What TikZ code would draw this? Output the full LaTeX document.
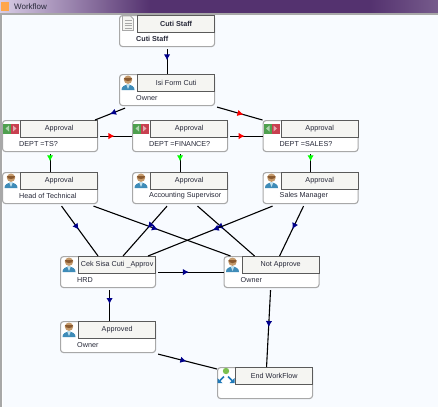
\documentclass[tikz,border=0pt]{standalone}
\usepackage{fontspec}
\setmainfont{Liberation Sans}
\usetikzlibrary{arrows.meta,decorations.markings}

\definecolor{bgblue}{HTML}{F8FBFF}
\definecolor{headgrey}{HTML}{F5F5F2}
\definecolor{edgegrey}{HTML}{5A5A5A}
\definecolor{rimgrey}{HTML}{A8A8A8}
\definecolor{textgrey}{HTML}{262838}
\definecolor{barpurple}{HTML}{54326F}
\definecolor{barlilac}{HTML}{D9CDE6}
\definecolor{navytip}{HTML}{00008B}
\definecolor{shirtblue}{HTML}{3F8CB8}
\definecolor{shirtpale}{HTML}{BFE0EE}
\definecolor{skintone}{HTML}{C49A6C}
\definecolor{hairtone}{HTML}{8A5A30}
\definecolor{btngreen}{HTML}{4FA04F}
\definecolor{btnred}{HTML}{C84050}
\definecolor{ballgreen}{HTML}{7CC050}
\definecolor{flowblue}{HTML}{1E78B8}

\tikzset{
  wfbody/.style={draw=rimgrey,line width=1.1pt,rounded corners=3pt,fill=white,
    minimum width=95pt,minimum height=31pt,inner sep=0pt},
  wfhead/.style={draw=edgegrey,line width=.9pt,fill=headgrey,text=textgrey,
    minimum width=77pt,minimum height=17pt,inner sep=0pt,font=\fontsize{7.2}{8}\selectfont},
  wflabel/.style={text=textgrey,inner sep=0pt,font=\fontsize{7.2}{8}\selectfont},
  tipped/.style 2 args={line width=1.1pt,postaction={decorate},
    decoration={markings,mark=at position #1 with {\arrow[#2]{Latex[length=6pt,width=6.5pt]}}}},
  pics/person/.style={code={
    \fill[shirtblue] (-6.5,7.5) .. controls (-7,0.5) and (7,0.5) .. (6.5,7.5) -- cycle;
    \fill[shirtpale] (-2,1.5) -- (2,1.5) -- (0,6.5) -- cycle;
    \fill[skintone] (0,-2.8) circle (4.2);
    \fill[hairtone] (-4.2,-4.4) arc (180:0:4.2 and 3) -- cycle;
  }},
  pics/docsheet/.style={code={
    \draw[rimgrey,line width=.8pt,fill=headgrey] (-5.5,-7.5) -- (2.5,-7.5) -- (5.5,-4.5) -- (5.5,7) -- (-5.5,7) -- cycle;
    \foreach \yy in {-3,-.5,2,4.5}
      \draw[rimgrey,line width=.9pt] (-3.5,\yy) -- (3.5,\yy);
  }},
  pics/switchbtn/.style={code={
    \fill[btngreen] (-8,-5) rectangle (0,5);
    \fill[btnred] (0,-5) rectangle (8,5);
    \fill[white!55!btngreen] (-2,-3) -- (-2,3) -- (-5.5,0) -- cycle;
    \fill[white!55!btnred] (2,-3) -- (2,3) -- (5.5,0) -- cycle;
  }},
  pics/endmark/.style={code={
    \fill[ballgreen] (0,-4.5) circle (3.2);
    \fill[flowblue] (-8.5,7.5) -- (-8.5,2.5) -- (-3.5,7.5) -- cycle;
    \fill[flowblue] (8.5,7.5) -- (8.5,2.5) -- (3.5,7.5) -- cycle;
    \draw[flowblue,line width=1.6pt] (-6,5) -- (-2,1);
    \draw[flowblue,line width=1.6pt] (6,5) -- (2,1);
  }}
}

% name, left, top, title, label, icon
\newcommand{\wfbox}[6]{
  \node[wfbody,anchor=north west] (#1) at (#2,#3) {};
  \node[wfhead,anchor=north east] (#1-head) at (#1.north east) {#4};
  \node[wflabel,anchor=west] (#1-label) at ([xshift=17pt,yshift=-8pt]#1.west) {#5};
  \pic at ([xshift=9pt,yshift=-8.5pt]#1.north west) {#6};
}

\begin{document}
\begin{tikzpicture}[x=1pt,y=-1pt]
\useasboundingbox (0,0) rectangle (438,407);

% window
\fill[bgblue] (0,0) rectangle (438,407);
\fill[white] (0,14) rectangle (2.5,407);
\shade[left color=barlilac,right color=barpurple] (0,0) rectangle (150,13);
\fill[barpurple] (150,0) rectangle (370,13);
\shade[left color=barpurple,right color=barpurple!80!white] (370,0) rectangle (438,13);
\fill[rimgrey] (0,13) rectangle (438,15);
\fill[rimgrey] (0,13) rectangle (1.5,407);
\fill[orange!70!white] (1,2) rectangle (9,11);
\node[anchor=west,text=textgrey,inner sep=0pt,font=\fontsize{8}{9}\selectfont] (wintitle) at (14,6.5) {Workflow};

\wfbox{cuti}{119}{15}{\textbf{Cuti Staff}}{\textbf{Cuti Staff}}{docsheet}
\wfbox{isi}{119}{74}{Isi Form Cuti}{Owner}{person}
\wfbox{ts}{2}{120}{Approval}{DEPT =TS?}{switchbtn}
\wfbox{fin}{132}{120}{Approval}{DEPT =FINANCE?}{switchbtn}
\wfbox{sales}{262.5}{120}{Approval}{DEPT =SALES?}{switchbtn}
\wfbox{head}{2}{172}{Approval}{Head of Technical}{person}
\wfbox{acc}{132}{172}{Approval}{Accounting Supervisor}{person}
\wfbox{mgr}{262.5}{172}{Approval}{Sales Manager}{person}
\wfbox{cek}{60}{256}{Cek Sisa Cuti \_Approv}{HRD}{person}
\wfbox{notok}{223.5}{256}{Not Approve}{Owner}{person}
\wfbox{okay}{60}{321}{Approved}{Owner}{person}
\wfbox{done}{217}{367}{End WorkFlow}{}{endmark}

\draw[tipped={.45}{navytip}] ([yshift=-2pt]cuti.south) -- (isi.north);
\draw[tipped={.5}{navytip}] ([xshift=-42pt,yshift=-2pt]isi.south) -- ([xshift=45pt]ts.north);
\draw[tipped={.58}{red}] ([xshift=2pt,yshift=-1pt]isi.south east) -- (sales.north west);
\draw[tipped={.45}{red}] ([xshift=2pt]ts.east) -- (fin.west);
\draw[tipped={.45}{red}] ([xshift=2pt]fin.east) -- (sales.west);
\draw[tipped={.4}{green}] ([yshift=-2pt]ts.south) -- (head.north);
\draw[tipped={.4}{green}] ([yshift=-2pt]fin.south) -- (acc.north);
\draw[tipped={.4}{green}] ([yshift=-2pt]sales.south) -- (mgr.north);
\draw[tipped={.47}{navytip}] ([xshift=11.5pt,yshift=-2pt]head.south) -- ([xshift=-10pt]cek.north);
\draw[tipped={.47}{navytip}] ([xshift=43.5pt,yshift=-2pt]head.south) -- ([xshift=-41pt]notok.north);
\draw[tipped={.44}{navytip}] ([xshift=-13pt,yshift=-2pt]acc.south) -- ([xshift=15pt]cek.north);
\draw[tipped={.46}{navytip}] ([xshift=17.5pt,yshift=-2pt]acc.south) -- ([xshift=-17pt]notok.north);
\draw[tipped={.48}{navytip}] ([xshift=-38pt,yshift=-2pt]mgr.south) -- ([xshift=40pt]cek.north);
\draw[tipped={.46}{navytip}] ([xshift=-7pt,yshift=-2pt]mgr.south) -- ([xshift=8pt]notok.north);
\draw[tipped={.47}{navytip}] ([xshift=2pt]cek.east) -- (notok.west);
\draw[tipped={.45}{navytip}] ([xshift=1.5pt,yshift=-2pt]cek.south) -- ([xshift=1.5pt]okay.north);
\draw[tipped={.48}{navytip}] ([xshift=2pt,yshift=-1pt]okay.south east) -- ([yshift=-2pt]done.north west);
\draw[tipped={.48}{navytip}] ([xshift=-1pt,yshift=-2pt]notok.south) -- ([xshift=1.5pt]done.north);
\end{tikzpicture}
\end{document}
